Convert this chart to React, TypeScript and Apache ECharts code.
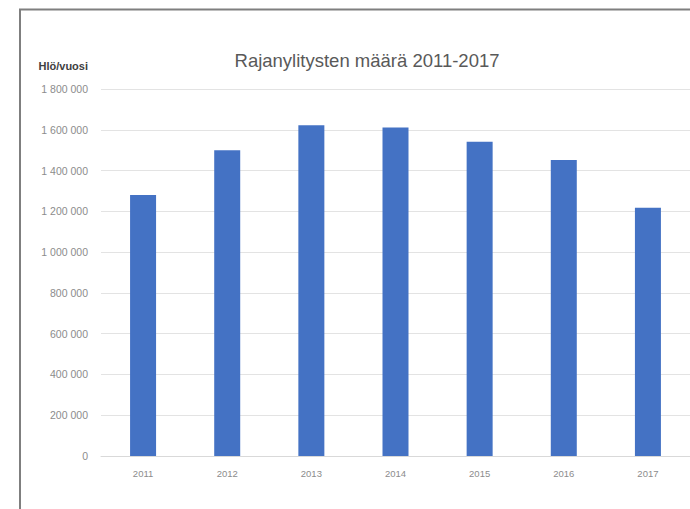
import React, { useEffect, useRef } from "react";
import * as echarts from "echarts";

const years = ["2011", "2012", "2013", "2014", "2015", "2016", "2017"];
const crossings = [1280000, 1500000, 1622000, 1611000, 1541000, 1452000, 1218000];
const chartTitle = "Rajanylitysten määrä 2011-2017";
const yAxisTitle = "Hlö/vuosi";

const fmt = (v: number) => String(v).replace(/\B(?=(\d{3})+(?!\d))/g, " ");

export default function App() {
  const ref = useRef<HTMLDivElement>(null);
  useEffect(() => {
    if (!ref.current) return;
    const chart = echarts.init(ref.current, null, { renderer: "svg" });
    chart.setOption({
      animation: false,
      backgroundColor: "#ffffff",
      grid: { left: 101, right: -6, top: 89, bottom: 53 },
      xAxis: {
        type: "category",
        data: years,
        axisTick: { show: false },
        axisLine: { lineStyle: { color: "#d9d9d9", width: 1 } },
        axisLabel: { color: "#8c8c8c", fontSize: 9.5, margin: 12, fontFamily: "Liberation Sans" },
      },
      yAxis: {
        type: "value",
        min: 0,
        max: 1800000,
        interval: 200000,
        axisLine: { show: false },
        axisTick: { show: false },
        splitLine: { lineStyle: { color: "#e3e3e3", width: 1 } },
        axisLabel: {
          color: "#8c8c8c",
          fontSize: 10.5,
          margin: 13,
          fontFamily: "Liberation Sans",
          formatter: (v: number) => fmt(v),
        },
      },
      series: [
        {
          type: "bar",
          data: crossings,
          barWidth: 26,
          itemStyle: { color: "#4472c4" },
        },
      ],
      graphic: [
        {
          type: "rect",
          shape: { x: 20, y: 9.5, width: 720, height: 620 },
          style: { fill: "none", stroke: "#7f7f7f", lineWidth: 2 },
          silent: true,
        },
        {
          type: "text",
          x: 367,
          y: 60,
          style: {
            text: chartTitle,
            fill: "#595959",
            fontSize: 18.5,
            fontFamily: "Liberation Sans",
            textAlign: "center",
            textVerticalAlign: "middle",
          },
        },
        {
          type: "text",
          x: 88,
          y: 66,
          style: {
            text: yAxisTitle,
            fill: "#404040",
            fontSize: 11,
            fontWeight: "bold",
            fontFamily: "Liberation Sans",
            textAlign: "right",
            textVerticalAlign: "middle",
          },
        },
      ],
    });
    return () => chart.dispose();
  }, []);
  return (
    <div
      ref={ref}
      style={{ position: "fixed", left: 0, top: 0, width: 690, height: 509, background: "#fff" }}
    />
  );
}
